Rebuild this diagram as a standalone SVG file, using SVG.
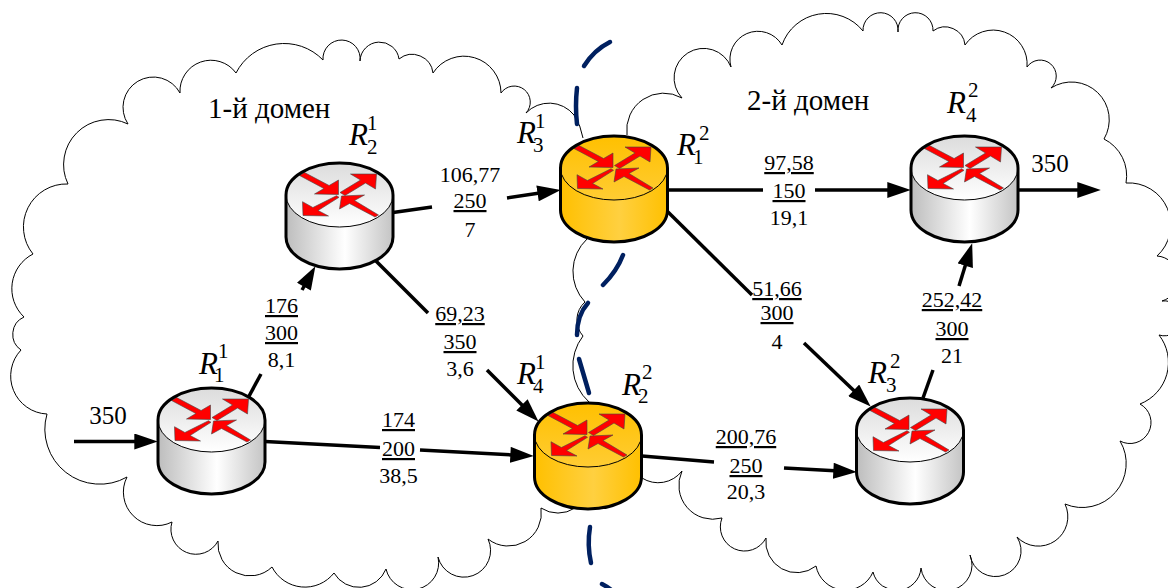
<svg xmlns="http://www.w3.org/2000/svg" xmlns:xlink="http://www.w3.org/1999/xlink" width="1168" height="588" viewBox="0 0 1168 588">
<style>
text{font-family:"Liberation Serif","Times New Roman",serif;fill:#000}
.v{font-size:22px;text-anchor:middle}
.u{text-decoration:underline}
.t{font-size:29px}
.m{font-size:25px;text-anchor:middle}
.r{font-size:31px;font-style:italic}
.s{font-size:21px;font-style:normal}
.cloud{fill:none;stroke:#000;stroke-width:1}
.link{fill:none;stroke:#000;stroke-width:3.5}
.arrow{marker-end:url(#head)}
.dash{fill:none;stroke:#002060;stroke-width:4.5;stroke-linecap:round}
.edge{fill:none;stroke:#000;stroke-width:3}
.rim{stroke:#000;stroke-width:1}
.rd{fill:#f00;stroke:#444;stroke-width:.6}
</style>
<defs>
<marker id="head" markerUnits="userSpaceOnUse" markerWidth="24" markerHeight="16" viewBox="0 0 22 15" refX="10" refY="7.5" orient="auto"><path d="M0 0L22 7.5L0 15z" fill="#000"/></marker>
<linearGradient id="gb" x1="0" x2="1" y1="0" y2="0"><stop offset="0" stop-color="#bdbdbd"/><stop offset=".55" stop-color="#fff"/><stop offset="1" stop-color="#c4c4c4"/></linearGradient>
<linearGradient id="gt" x1="0" x2="0" y1="0" y2="1"><stop offset="0" stop-color="#dcdcdc"/><stop offset="1" stop-color="#fff"/></linearGradient>
<linearGradient id="yb" x1="0" x2="1" y1="0" y2="0"><stop offset="0" stop-color="#ffc000"/><stop offset=".55" stop-color="#ffd040"/><stop offset="1" stop-color="#ffc000"/></linearGradient>
<linearGradient id="yt" x1="0" x2="0" y1="0" y2="1"><stop offset="0" stop-color="#ffc000"/><stop offset="1" stop-color="#ffcc33"/></linearGradient>
<g id="arrows">
<path class="rd" d="M-35-22.500L-10.400-9.500L-1-15L-1-.5L-25-1L-15.600-6.500L-40-19.500z"/>
<path class="rd" d="M.5-2.500L21-15L11-21L37-21L36-6L26-12L5.500.5z"/>
<path class="rd" d="M-3 .7L-26.600 12.500L-37 6.700L-36.500 20.500L-11 21L-21.400 15.500L-.5 2.300z"/>
<path class="rd" d="M2 1L25 0L15 5.500L39 20L35.500 22L10 8.500L0 14z"/>
</g>
<g id="router-grey">
<path d="M-53.500 0V42A53.500 32 0 0 0 53.500 42V0z" fill="url(#gb)"/>
<ellipse rx="53.500" ry="32" fill="url(#gt)" class="rim"/>
<use xlink:href="#arrows" href="#arrows"/>
<path class="edge" d="M-53.500 0V42A53.500 32 0 0 0 53.500 42V0A53.500 32 0 0 0-53.500 0z"/>
</g>
<g id="router-gold">
<path d="M-53.500 0V42A53.500 32 0 0 0 53.500 42V0z" fill="url(#yb)"/>
<ellipse rx="53.500" ry="32" fill="url(#yt)" class="rim"/>
<use xlink:href="#arrows" href="#arrows"/>
<path class="edge" d="M-53.500 0V42A53.500 32 0 0 0 53.500 42V0A53.500 32 0 0 0-53.500 0z"/>
</g>
</defs>
<g id="domains">
<path id="domain-1" class="cloud" d="M575 508A31 31 0 0 1 541 508A33 33 0 0 1 488 539A26.700 26.700 0 1 1 438 557A26.600 26.600 0 0 1 386 569A29 29 0 0 1 334 573A37 37 0 0 1 272 567A32 32 0 0 1 218 541A25 25 0 0 1 172 522A33.500 33.500 0 0 1 127 477A55 55 0 0 1 47 414A38 38 0 0 1 21 350A19 19 0 0 1 24 317A39 39 0 0 1 33 254A43 43 0 0 1 68 184A45 45 0 0 1 128 124A30.300 30.300 0 1 1 180 93A31 31 0 0 1 236 73A54 54 0 0 1 323 60A18.600 18.600 0 1 1 360 61A19.600 19.600 0 0 1 399 59A21 21 0 0 1 433 73A37 37 0 0 1 501 93A16.050 16.050 0 1 1 526 113A32 32 0 0 1 574 115A60 60 0 0 1 583 138"/>
<path id="domain-2" class="cloud" d="M627 135A37 37 0 0 1 682 98A29.500 29.500 0 1 1 731 67A28 28 0 0 1 782 45A47 47 0 0 1 863 31A17.550 17.550 0 1 1 898 32A17.550 17.550 0 1 1 933 31A20 20 0 0 1 965 45A34 34 0 0 1 1027 67A16.050 16.050 0 1 1 1051 88A37.800 37.800 0 0 1 1104 139A41 41 0 0 1 1126 183A42 42 0 0 1 1157 256A23 23 0 0 1 1162 301A17.500 17.500 0 1 1 1159 335A44.600 44.600 0 0 1 1140 404A21 21 0 0 1 1120 441A44 44 0 0 1 1065 504A29.500 29.500 0 0 1 1017 537A25.700 25.700 0 1 1 970 555A25.600 25.600 0 1 1 921 568A24.400 24.400 0 0 1 873 572A30 30 0 0 1 816 566A31 31 0 0 1 766 538A24.200 24.200 0 0 1 722 518A34 34 0 0 1 682 471A30 30 0 0 1 642 478"/>
<path id="domain-join" class="cloud" d="M589 402A48.700 48.700 0 0 1 583 336A24 24 0 0 1 585 302A44.600 44.600 0 0 1 587 239"/>
<text class="t" x="208" y="118">1-й домен</text>
<text class="t" x="747" y="110">2-й домен</text>
</g>
<g id="boundary">
<path class="dash" d="M610 42Q594 50 584 66"/>
<path class="dash" d="M577 88Q575 106 577 124"/>
<path class="dash" d="M623 255Q617 271 603 285"/>
<path class="dash" d="M588 303Q577 315 577 335"/>
<path class="dash" d="M579 359L589 393"/>
<path class="dash" d="M590 527Q587 545 591 563"/>
<path class="dash" d="M602 584Q610 588 618 596"/>
</g>
<g id="connectors">
<path class="link arrow" d="M74 441.500H145"/>
<path class="link" d="M248 398L261 374"/>
<path class="link arrow" d="M302 290L309.100 277.400"/>
<path class="link" d="M393 212.500L432 207"/>
<path class="link arrow" d="M507 198L548.100 191.800"/>
<path class="link" d="M376 261L428 313"/>
<path class="link arrow" d="M487 370L529.500 412.500"/>
<path class="link" d="M265 441.500L380 447.500"/>
<path class="link arrow" d="M420 450L521 455.400"/>
<path class="link" d="M642 456L714 462"/>
<path class="link arrow" d="M784 468L844 471.300"/>
<path class="link" d="M667 190H763"/>
<path class="link arrow" d="M815 190H898"/>
<path class="link" d="M667 211L752 295"/>
<path class="link arrow" d="M804 343L861.400 397.700"/>
<path class="link" d="M923 398L933 370"/>
<path class="link arrow" d="M959 286L968.400 255.500"/>
<path class="link arrow" d="M1018 190H1088"/>
</g>
<g id="link-labels">
<text class="m" x="108" y="424">350</text>
<text class="m" x="1050" y="172">350</text>
<text class="v u" x="281.500" y="313">176</text><text class="v u" x="281.500" y="340">300</text><text class="v" x="281.500" y="367">8,1</text>
<text class="v" x="470" y="182">106,77</text><text class="v u" x="470" y="208">250</text><text class="v" x="470" y="237">7</text>
<text class="v u" x="460" y="321">69,23</text><text class="v u" x="460" y="349">350</text><text class="v" x="460" y="376">3,6</text>
<text class="v u" x="398.500" y="427">174</text><text class="v u" x="398.500" y="456">200</text><text class="v" x="398.500" y="483">38,5</text>
<text class="v u" x="746" y="444">200,76</text><text class="v u" x="746" y="473">250</text><text class="v" x="746" y="499">20,3</text>
<text class="v u" x="789" y="170">97,58</text><text class="v u" x="789" y="198">150</text><text class="v" x="789" y="225">19,1</text>
<text class="v u" x="777" y="296">51,66</text><text class="v u" x="777" y="320">300</text><text class="v" x="777" y="349">4</text>
<text class="v u" x="952" y="307">252,42</text><text class="v u" x="952" y="336">300</text><text class="v" x="952" y="363">21</text>
</g>
<g id="R1-1"><use xlink:href="#router-grey" href="#router-grey" x="211.500" y="420"/><text class="r" x="199" y="374">R<tspan class="s" x="218" y="358">1</tspan><tspan class="s" x="214" y="382">1</tspan></text></g>
<g id="R1-2"><use xlink:href="#router-grey" href="#router-grey" x="339.500" y="195"/><text class="r" x="349" y="145">R<tspan class="s" x="367" y="130">1</tspan><tspan class="s" x="367" y="154">2</tspan></text></g>
<g id="R1-3"><text class="r" x="517" y="143">R<tspan class="s" x="535" y="128">1</tspan><tspan class="s" x="533" y="152">3</tspan></text></g>
<g id="R2-1"><use xlink:href="#router-gold" href="#router-gold" x="614" y="168"/><text class="r" x="677" y="155">R<tspan class="s" x="699" y="140">2</tspan><tspan class="s" x="693" y="164">1</tspan></text></g>
<g id="R1-4"><text class="r" x="517" y="384">R<tspan class="s" x="535" y="369">1</tspan><tspan class="s" x="533" y="393">4</tspan></text></g>
<g id="R2-2"><use xlink:href="#router-gold" href="#router-gold" x="588" y="435"/><text class="r" x="622" y="395">R<tspan class="s" x="642" y="379">2</tspan><tspan class="s" x="638" y="403">2</tspan></text></g>
<g id="R2-3"><use xlink:href="#router-grey" href="#router-grey" x="910" y="430"/><text class="r" x="868" y="383">R<tspan class="s" x="890" y="368">2</tspan><tspan class="s" x="886" y="392">3</tspan></text></g>
<g id="R2-4"><use xlink:href="#router-grey" href="#router-grey" x="964.500" y="168"/><text class="r" x="947" y="113">R<tspan class="s" x="968" y="97">2</tspan><tspan class="s" x="966" y="122">4</tspan></text></g>
</svg>
